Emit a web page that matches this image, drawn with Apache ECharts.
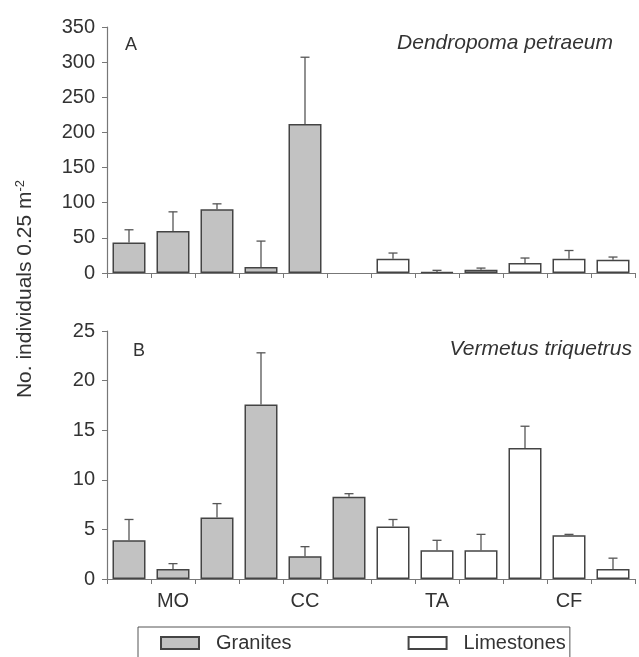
<!DOCTYPE html>
<html>
<head>
<meta charset="utf-8">
<script src="https://cdn.jsdelivr.net/npm/echarts@6/dist/echarts.min.js"></script>
<style>
  html, body { margin: 0; padding: 0; background: #fff; }
  #chart { width: 639px; height: 657px; }
</style>
</head>
<body>
<div id="chart"></div>
<script>
// sites (labels only under the middle slot of each group of three)
const categories = ['', 'MO', '', '', 'CC', '', '', 'TA', '', '', 'CF', ''];
const rockType = ['G', 'G', 'G', 'G', 'G', 'G', 'L', 'L', 'L', 'L', 'L', 'L'];

// A - Dendropoma petraeum (mean, mean + SE)
const dendropomaMean = [43.5, 59.6, 90.8, 8.5, 212, null, 20.3, 1.2, 4.7, 14.2, 20.3, 18.9];
const dendropomaUpper = [61.5, 87, 98.4, 45.4, 307, null, 28.4, 3.8, 7, 21.3, 32, 22.7];

// B - Vermetus triquetrus
const vermetusMean = [3.9, 1.0, 6.2, 17.6, 2.3, 8.3, 5.3, 2.9, 2.9, 13.2, 4.4, 1.0];
const vermetusUpper = [6.0, 1.55, 7.6, 22.8, 3.26, 8.6, 6.0, 3.9, 4.5, 15.4, 4.5, 2.1];

const ticksA = { min: 0, max: 350, interval: 50 };
const ticksB = { min: 0, max: 25, interval: 5 };

const textColor = '#333';
const axisColor = '#777';
const font = 'Liberation Sans, Arial, sans-serif';

function pick(values, type) {
    return values.map((v, i) => (rockType[i] === type && v != null ? v : '-'));
}

function errorData(mean, upper) {
    const out = [];
    mean.forEach((m, i) => {
        if (m != null && upper[i] != null) out.push([i, m, upper[i]]);
    });
    return out;
}

function errorBars(index, data) {
    return {
        type: 'custom',
        xAxisIndex: index,
        yAxisIndex: index,
        silent: true,
        z: 1,
        data: data,
        renderItem: function (params, api) {
            const base = api.coord([api.value(0), api.value(1)]);
            const top = api.coord([api.value(0), api.value(2)]);
            const cap = 4.5;
            const st = { stroke: '#555', lineWidth: 1.3 };
            return {
                type: 'group',
                children: [
                    { type: 'line', shape: { x1: base[0], y1: base[1], x2: top[0], y2: top[1] }, style: st },
                    { type: 'line', shape: { x1: top[0] - cap, y1: top[1], x2: top[0] + cap, y2: top[1] }, style: st }
                ]
            };
        }
    };
}

function barSeries(name, index, data, color) {
    return {
        name: name,
        type: 'bar',
        xAxisIndex: index,
        yAxisIndex: index,
        data: data,
        barWidth: 33,
        barGap: '-100%',
        z: 2,
        itemStyle: { color: color, borderColor: '#444', borderWidth: 1.5 }
    };
}

function xAxis(index, showLabels) {
    return {
        type: 'category',
        gridIndex: index,
        data: categories,
        boundaryGap: true,
        axisLine: { lineStyle: { color: axisColor, width: 1.2 } },
        axisTick: { show: true, interval: 0, length: 5, lineStyle: { color: axisColor } },
        axisLabel: {
            show: showLabels, interval: 0, margin: 12,
            color: textColor, fontSize: 20, fontFamily: font
        }
    };
}

function yAxis(index, t) {
    return {
        type: 'value',
        gridIndex: index,
        min: t.min, max: t.max, interval: t.interval,
        axisLine: { show: true, lineStyle: { color: axisColor, width: 1.2 } },
        axisTick: { show: true, length: 5, lineStyle: { color: axisColor } },
        splitLine: { show: false },
        axisLabel: { margin: 12, color: textColor, fontSize: 20, fontFamily: font }
    };
}

const chart = echarts.init(document.getElementById('chart'));
chart.setOption({
    animation: false,
    backgroundColor: '#fff',
    grid: [
        { left: 107, right: 4, top: 27, height: 246 },
        { left: 107, right: 4, top: 331, height: 248 }
    ],
    xAxis: [xAxis(0, false), xAxis(1, true)],
    yAxis: [yAxis(0, ticksA), yAxis(1, ticksB)],
    legend: {
        data: ['Granites', 'Limestones'],
        left: 138,
        top: 627,
        icon: 'rect',
        itemWidth: 38,
        itemHeight: 12,
        itemGap: 116,
        padding: [6, 4, 8, 22],
        borderColor: '#555',
        borderWidth: 1,
        textStyle: { color: textColor, fontSize: 20, fontFamily: font, padding: [0, 0, 0, 12] }
    },
    graphic: [
        { type: 'text', left: 125, top: 36, style: { text: 'A', fill: textColor, font: '18px ' + font } },
        { type: 'text', left: 133, top: 342, style: { text: 'B', fill: textColor, font: '18px ' + font } },
        {
            type: 'text', right: 26, top: 33,
            style: { text: 'Dendropoma petraeum', fill: textColor, font: 'italic 21px ' + font }
        },
        {
            type: 'text', right: 7, top: 339,
            style: { text: 'Vermetus triquetrus', fill: textColor, font: 'italic 21px ' + font }
        },
        {
            type: 'text', x: 25, y: 289, rotation: Math.PI / 2,
            style: {
                text: 'No. individuals 0.25 m{sup|-2}',
                fill: textColor, font: '21px ' + font,
                align: 'center', verticalAlign: 'middle',
                rich: { sup: { fontSize: 13, fontFamily: font, fill: textColor, padding: [0, 0, 10, 0] } }
            }
        }
    ],
    series: [
        barSeries('Granites', 0, pick(dendropomaMean, 'G'), '#c2c2c2'),
        barSeries('Limestones', 0, pick(dendropomaMean, 'L'), '#ffffff'),
        errorBars(0, errorData(dendropomaMean, dendropomaUpper)),
        barSeries('Granites', 1, pick(vermetusMean, 'G'), '#c2c2c2'),
        barSeries('Limestones', 1, pick(vermetusMean, 'L'), '#ffffff'),
        errorBars(1, errorData(vermetusMean, vermetusUpper))
    ]
});
</script>
</body>
</html>
